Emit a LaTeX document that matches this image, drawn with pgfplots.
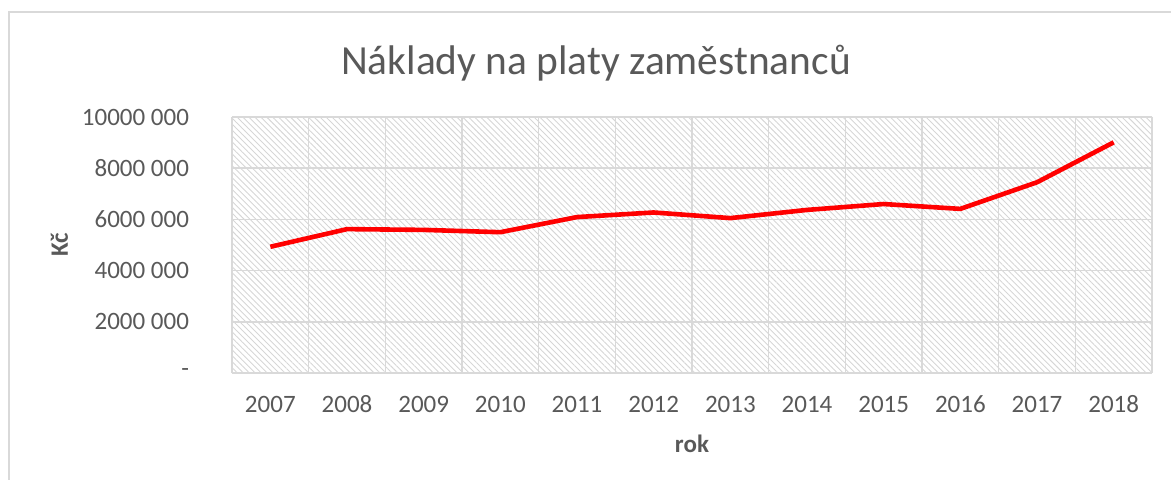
\documentclass[border=0pt]{standalone}
\usepackage{pgfplots}
\pgfplotsset{compat=1.18}
\usepackage{fontspec}
\setmainfont{Carlito}
\usetikzlibrary{patterns.meta}
\definecolor{txt}{HTML}{595959}
\definecolor{gridc}{HTML}{D9D9D9}
\definecolor{hatch}{HTML}{D6D6D6}
\begin{document}
\begin{tikzpicture}
\useasboundingbox (0pt,0pt) rectangle (585.5pt,240pt);
\draw[gridc, line width=0.75pt] (4.5pt,-3pt) -- (4.5pt,234pt) -- (595pt,234pt);
\node[txt, font=\fontsize{20.7}{25}\selectfont, anchor=base] at (298pt,202.5pt) {Náklady na platy zaměstnanců};
\begin{axis}[
  at={(116pt,53.5pt)}, anchor=south west,
  scale only axis, width=460pt, height=128pt,
  xmin=-0.5, xmax=11.5, ymin=0, ymax=10000000,
  xtick={0,...,11},
  xticklabels={2007,2008,2009,2010,2011,2012,2013,2014,2015,2016,2017,2018},
  minor xtick={-0.5,0.5,...,11.5},
  ytick={0,2000000,4000000,6000000,8000000,10000000},
  yticklabels={-\hspace{7pt},2000 000,4000 000,6000 000,8000 000,10000 000},
  scaled y ticks=false,
  major tick length=0pt, minor tick length=0pt,
  ymajorgrids, xminorgrids,
  grid style={gridc, line width=0.75pt},
  minor grid style={gridc, line width=0.75pt},
  axis line style={draw=none},
  axis background/.style={pattern={Lines[angle=-45,distance=2.1pt,line width=0.45pt]}, pattern color=hatch},
  ticklabel style={txt, font=\fontsize{12.5}{15}\selectfont},
  yticklabel style={xshift=-18pt},
  xticklabel style={anchor=base, yshift=-20pt},
  xlabel={\textbf{rok}}, ylabel={\textbf{Kč}},
  label style={txt, font=\fontsize{12.5}{15}\selectfont},
  xlabel style={yshift=-4pt},
  ylabel style={xshift=0pt},
  clip=false,
]
\addplot[red, line width=2.3pt, line join=round] coordinates {
(0,4930000) (1,5620000) (2,5590000) (3,5500000) (4,6090000) (5,6270000)
(6,6050000) (7,6370000) (8,6600000) (9,6410000) (10,7450000) (11,9010000)
};
\draw[gridc, line width=1pt] (rel axis cs:0,0) -- (rel axis cs:1,0);
\end{axis}
\end{tikzpicture}
\end{document}
